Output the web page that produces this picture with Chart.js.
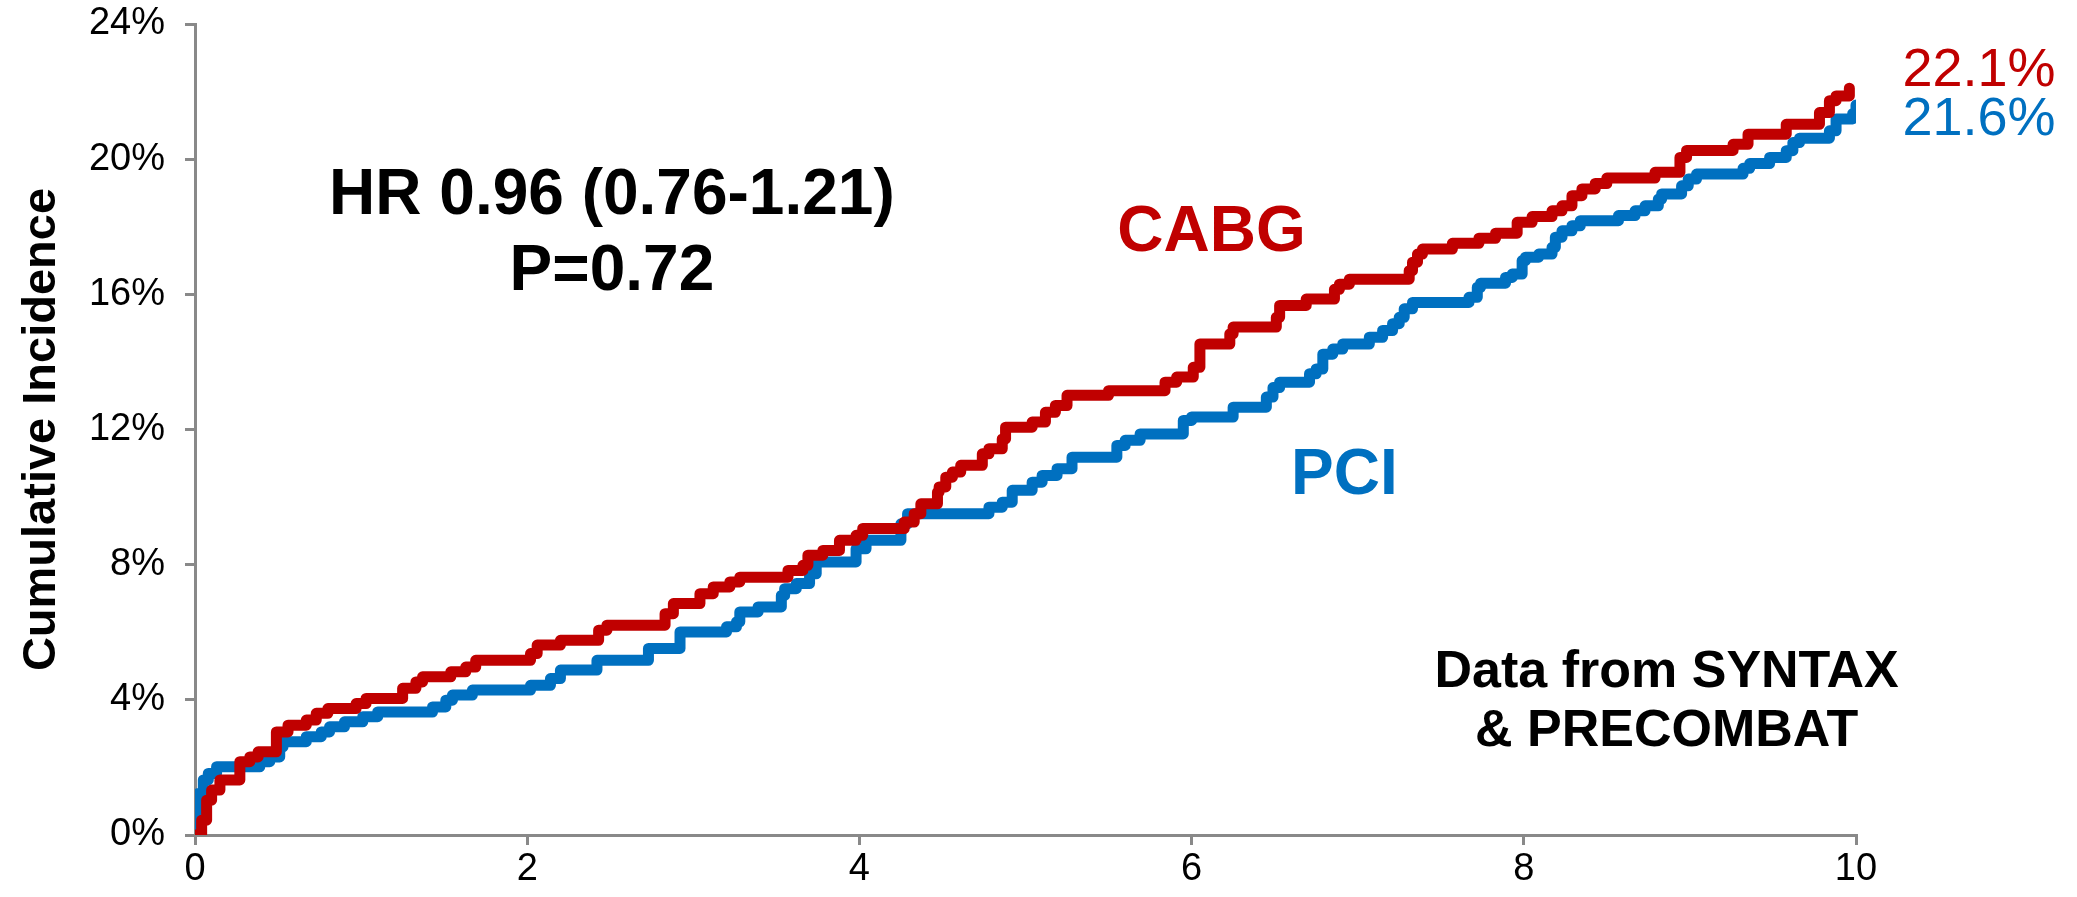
<!DOCTYPE html>
<html>
<head>
<meta charset="utf-8">
<script src="https://cdn.jsdelivr.net/npm/chart.js@4"></script>
<style>
  html, body { margin: 0; padding: 0; background: #fff; }
  #wrap { width: 2077px; height: 897px; }
</style>
</head>
<body>
<div id="wrap"><canvas id="kmChart" width="2077" height="897"></canvas></div>
<script>
// Kaplan-Meier style cumulative incidence
const cabgYears = [0, 0.04, 0.07, 0.10, 0.15, 0.27, 0.33, 0.38, 0.49, 0.56, 0.67, 0.73, 0.80, 0.97, 1.03,
    1.25, 1.33, 1.37, 1.54, 1.63, 1.69, 2.02, 2.06, 2.20, 2.43, 2.48, 2.83, 2.88, 3.04, 3.12,
    3.22, 3.28, 3.57, 3.66, 3.69, 3.78, 3.88, 3.98, 4.02, 4.27, 4.33, 4.37, 4.47, 4.48, 4.52,
    4.56, 4.61, 4.74, 4.78, 4.86, 4.88, 5.04, 5.12, 5.18, 5.25, 5.50, 5.84, 5.91, 6.01, 6.05,
    6.23, 6.25, 6.51, 6.53, 6.69, 6.86, 6.89, 6.95, 7.31, 7.33, 7.36, 7.39, 7.57, 7.73, 7.83,
    7.96, 8.05, 8.17, 8.23, 8.29, 8.35, 8.43, 8.50, 8.79, 8.94, 8.98, 9.26, 9.35, 9.58, 9.78,
    9.84, 9.88, 9.96];
const cabgPct = [0, 0.44, 1.03, 1.33, 1.63, 2.17, 2.31, 2.46, 3.05, 3.25, 3.40, 3.60, 3.74, 3.89, 4.04,
    4.34, 4.53, 4.68, 4.83, 4.97, 5.17, 5.37, 5.62, 5.76, 6.06, 6.21, 6.55, 6.85, 7.14, 7.34,
    7.49, 7.63, 7.83, 7.98, 8.28, 8.42, 8.72, 8.87, 9.07, 9.26, 9.51, 9.80, 10.15, 10.30, 10.59,
    10.74, 10.94, 11.28, 11.43, 11.72, 12.07, 12.22, 12.51, 12.71, 13.01, 13.15, 13.40, 13.55, 13.84, 14.53,
    14.83, 15.03, 15.32, 15.67, 15.86, 16.15, 16.30, 16.45, 16.70, 16.95, 17.19, 17.34, 17.51, 17.66, 17.81,
    18.13, 18.30, 18.47, 18.62, 18.92, 19.12, 19.28, 19.44, 19.61, 20.05, 20.26, 20.44, 20.74, 21.03, 21.38,
    21.73, 21.87, 22.10];

const pciYears = [0, 0.01, 0.02, 0.05, 0.08, 0.13, 0.39, 0.45, 0.51, 0.53, 0.67, 0.76, 0.81, 0.90, 1.01,
    1.10, 1.43, 1.51, 1.55, 1.67, 2.02, 2.14, 2.20, 2.42, 2.73, 2.92, 3.20, 3.26, 3.28, 3.39,
    3.53, 3.55, 3.62, 3.70, 3.74, 3.98, 4.04, 4.25, 4.29, 4.78, 4.86, 4.92, 5.04, 5.10, 5.19,
    5.28, 5.55, 5.60, 5.69, 5.95, 6.00, 6.25, 6.45, 6.49, 6.53, 6.71, 6.75, 6.79, 6.85, 6.91,
    7.07, 7.15, 7.21, 7.25, 7.28, 7.33, 7.67, 7.72, 7.74, 7.89, 7.93, 7.99, 8.01, 8.09, 8.17,
    8.19, 8.23, 8.29, 8.34, 8.57, 8.67, 8.73, 8.81, 8.83, 8.95, 8.99, 9.04, 9.32, 9.36, 9.48,
    9.58, 9.62, 9.66, 9.84, 9.88, 9.98, 10.0];
const pciPct = [0, 0.60, 1.23, 1.63, 1.82, 2.02, 2.17, 2.31, 2.61, 2.76, 2.91, 3.05, 3.20, 3.35, 3.50,
    3.64, 3.79, 3.99, 4.14, 4.29, 4.43, 4.63, 4.88, 5.17, 5.52, 6.01, 6.16, 6.31, 6.60, 6.75,
    7.09, 7.29, 7.44, 7.73, 8.08, 8.47, 8.72, 9.21, 9.51, 9.70, 9.85, 10.20, 10.44, 10.64, 10.84,
    11.18, 11.53, 11.68, 11.87, 12.27, 12.37, 12.66, 12.96, 13.24, 13.40, 13.65, 13.79, 14.23, 14.38, 14.53,
    14.73, 14.93, 15.13, 15.32, 15.57, 15.76, 15.91, 16.21, 16.33, 16.50, 16.60, 17.00, 17.10, 17.19, 17.39,
    17.69, 17.88, 18.03, 18.18, 18.33, 18.47, 18.62, 18.82, 18.97, 19.21, 19.41, 19.56, 19.73, 19.87, 20.05,
    20.25, 20.49, 20.62, 20.84, 21.19, 21.35, 21.60];

const xTicks = [0, 2, 4, 6, 8, 10];
const yTicks = [0, 4, 8, 12, 16, 20, 24];
const seriesNames = ['CABG', 'PCI'];
const finalLabels = ['22.1%', '21.6%'];

const RED = '#C00000';
const BLUE = '#0070C0';
const AXIS = '#898989';
const FONT = '"Liberation Sans", Arial, sans-serif';

const toPoints = (xs, ys) => xs.map((x, i) => ({ x: x, y: ys[i] }));

// text annotations placed in data units
const notes = [
    { text: 'HR 0.96 (0.76-1.21)', x: 2.51, y: 18.9, color: '#000', size: 64, bold: true, align: 'center' },
    { text: 'P=0.72', x: 2.51, y: 16.65, color: '#000', size: 64, bold: true, align: 'center' },
    { text: seriesNames[0], x: 6.12, y: 17.8, color: RED, size: 64, bold: true, align: 'center' },
    { text: seriesNames[1], x: 6.92, y: 10.6, color: BLUE, size: 64, bold: true, align: 'center' },
    { text: 'Data from SYNTAX', x: 8.86, y: 4.8, color: '#000', size: 52, bold: true, align: 'center' },
    { text: '& PRECOMBAT', x: 8.86, y: 3.05, color: '#000', size: 52, bold: true, align: 'center' },
    { text: finalLabels[0], x: 10.28, y: 22.6, color: RED, size: 54, bold: false, align: 'left' },
    { text: finalLabels[1], x: 10.28, y: 21.15, color: BLUE, size: 54, bold: false, align: 'left' }
];

const notesPlugin = {
    id: 'notes',
    afterDatasetsDraw(chart) {
        const ctx = chart.ctx;
        const sx = chart.scales.x, sy = chart.scales.y;
        ctx.save();
        ctx.textBaseline = 'middle';
        notes.forEach(n => {
            ctx.font = (n.bold ? 'bold ' : '') + n.size + 'px ' + FONT;
            ctx.fillStyle = n.color;
            ctx.textAlign = n.align;
            ctx.fillText(n.text, sx.getPixelForValue(n.x), sy.getPixelForValue(n.y));
        });
        ctx.restore();
    }
};

new Chart(document.getElementById('kmChart'), {
    type: 'line',
    data: {
        datasets: [
            {
                label: seriesNames[0],
                data: toPoints(cabgYears, cabgPct),
                borderColor: RED,
                borderWidth: 11,
                stepped: 'before',
                pointRadius: 0,
                borderCapStyle: 'round',
                borderJoinStyle: 'round',
                fill: false
            },
            {
                label: seriesNames[1],
                data: toPoints(pciYears, pciPct),
                borderColor: BLUE,
                borderWidth: 11,
                stepped: 'before',
                pointRadius: 0,
                borderCapStyle: 'round',
                borderJoinStyle: 'round',
                fill: false
            }
        ]
    },
    options: {
        responsive: false,
        animation: false,
        layout: { padding: { top: 24, right: 221, left: 0, bottom: 0 } },
        plugins: {
            legend: { display: false },
            tooltip: { enabled: false }
        },
        scales: {
            x: {
                type: 'linear',
                min: 0,
                max: 10,
                afterBuildTicks(scale) { scale.ticks = xTicks.map(v => ({ value: v })); },
                afterFit(scale) { scale.height = 62; },
                border: { color: AXIS, width: 3 },
                grid: { drawOnChartArea: false, drawTicks: true, tickLength: 10, color: AXIS, lineWidth: 3 },
                ticks: { color: '#000', font: { family: FONT, size: 38 }, padding: 2, maxRotation: 0 }
            },
            y: {
                type: 'linear',
                min: 0,
                max: 24,
                afterBuildTicks(scale) { scale.ticks = yTicks.map(v => ({ value: v })); },
                afterFit(scale) {
                    scale.width = 195;
                    scale.paddingTop = 0;
                    scale.paddingBottom = 0;
                },
                border: { color: AXIS, width: 3 },
                grid: { drawOnChartArea: false, drawTicks: true, tickLength: 10, color: AXIS, lineWidth: 3 },
                ticks: {
                    color: '#000',
                    font: { family: FONT, size: 38 },
                    padding: 20,
                    callback: v => v + '%'
                },
                title: {
                    display: true,
                    text: 'Cumulative Incidence',
                    color: '#000',
                    font: { family: FONT, size: 47, weight: 'bold' },
                    padding: { top: 14, bottom: 0 }
                }
            }
        }
    },
    plugins: [notesPlugin]
});
</script>
</body>
</html>
